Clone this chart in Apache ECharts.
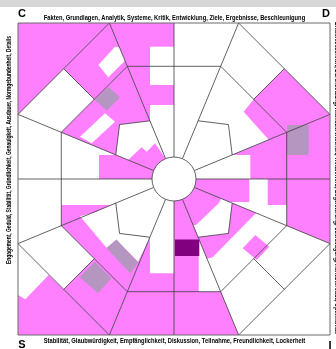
<!DOCTYPE html>
<html>
<head>
<meta charset="utf-8">
<script src="https://cdn.jsdelivr.net/npm/echarts@6/dist/echarts.min.js"></script>
<style>
  html, body { margin: 0; padding: 0; background: #fff; }
  #chart { width: 336px; height: 349px; }
</style>
</head>
<body>
<div id="chart"></div>
<script>
// wheel geometry (chart units, centre = 0,0, y pointing down)
var rayAngles = [22.5, 67.5, 112.5, 157.5, 202.5, 247.5, 292.5, 337.5];
var axisAngles = [0, 90, 180, 270];
var diagonalAngles = [45, 135, 225, 315];
var ringRadii = [22, 63, 77, 122];   // hub, inner, inner corner, middle
var halfSide = 156;

// labels
var topLabel = 'Fakten, Grundlagen, Analytik, Systeme, Kritik, Entwicklung, Ziele, Ergebnisse, Beschleunigung';
var bottomLabel = 'Stabilität, Glaubwürdigkeit, Empfänglichkeit, Diskussion, Teilnahme, Freundlichkeit, Lockerheit';
var leftLabel = 'Engagement, Geduld, Stabilität, Gründlichkeit, Genauigkeit, Ausdauer, Normgebundenheit, Details';
var rightLabel = 'Entschlossenheit, Durchsetzung, Risikobereitschaft, Wettbewerb, Begeisterung, Überzeugung, Kontaktfreude, Optimismus';
var cornerLetters = ['C', 'D', 'S', 'I'];

// filled areas
var pinkAreas = [
  [[-156,-156],[-64.6,-156],[-156,-64.6]],
  [[-64.6,-156],[-110.3,-110.3],[-79.7,-79.7],[-46.7,-112.7]],
  [[-46.7,-112.7],[-112.7,-46.7],[-58.2,-24.1],[-54.4,-54.4],[-24.1,-58.2]],
  [[-46,-19],[-32.3,-31.7],[-27.3,-27.3],[-19,-35.7],[-8.4,-20.3],[-20.3,-8.4]],
  [[-64.6,-156],[0,-156],[0,-22],[-8.4,-20.3]],
  [[-75,-24],[-58.2,-24],[-20.3,-8.4],[-22,0],[-75,0]],
  [[110.3,-110.3],[156,-64.6],[112.7,-46.7],[79.7,-79.7]],
  [[79.7,-79.7],[69.7,-67.3],[94.7,-39.2],[112.7,-46.7]],
  [[58.2,-24.1],[156,-64.6],[156,0],[76.3,0],[76.3,-24],[58.2,-24]],
  [[20,0],[75.3,0],[75.3,23],[55.5,23],[20.3,8.4]],
  [[93.7,0],[112.7,0],[112.7,26],[93.7,26]],
  [[112.7,0],[156,0],[156,64.6],[112.7,46.7]],
  [[0,18],[8.4,20.3],[24.7,59.6],[24.7,112.7],[46.7,112.7],[64.6,156],[0,156]],
  [[8.4,20.3],[20.3,8.4],[47,19.5],[45,24],[22,46],[19,46]],
  [[58.2,24.1],[82,34],[38.7,78.3],[33,79.7],[24.1,58.2],[54.4,54.4]],
  [[68.7,69.3],[81.3,56],[95.3,67.7],[82.7,81]],
  [[-112.7,26],[-62.7,26],[-112.7,46.7]],
  [[-112.7,46.7],[-58.2,24.1],[-54.4,54.4],[-24.1,58.2],[-46.7,112.7]],
  [[-110.3,110.3],[-79.7,79.7],[-46.7,112.7],[-64.6,156]],
  [[-156,64.6],[-64.6,156],[-156,156]],
  [[-24.1,58.2],[-24,94.3],[0,94.3],[0,156],[-64.6,156]]
];
var blankAreas = [
  [[-75.7,-114],[-59,-132.3],[-54.7,-131.7],[-49,-118.3],[-65.7,-101.7]],
  [[-94,-42.3],[-69,-65.7],[-59,-57.3],[-82.3,-35.7]],
  [[-24,-132.3],[0,-132.3],[0,-94],[-24,-94]],
  [[-24,-74],[0,-74],[0,-22],[-8.4,-20.3],[-24.1,-58.2]],
  [[-94,37.3],[-79,33.3],[-58.3,24],[-54.3,54.3],[-24,58.3],[-36,82.7],[-57.7,61],[-67.3,69]],
  [[-156,64.6],[-112.7,46.7],[-80,79.7],[-110.3,110.3],[-125.3,96],[-148.7,120.3],[-156,116]]
];
var greyAreas = [
  [[-79,-79],[-65.7,-92.3],[-54,-81.7],[-67.3,-68.3]],
  [[113,-54],[134.7,-54],[134.7,-24],[113,-24]],
  [[-67.5,69],[-57.5,60.5],[-35.7,83.5],[-44,94.3]],
  [[-94.3,98.3],[-79.3,82.7],[-62.7,99.3],[-76,114.3]]
];
var darkAreas = [
  [[1,60.5],[25.3,60.5],[25.3,77],[1,77]]
];

function polar(r, deg) {
  var a = deg * Math.PI / 180;
  return [r * Math.cos(a), -r * Math.sin(a)];
}
function midpoint(p, q) { return [(p[0] + q[0]) / 2, (p[1] + q[1]) / 2]; }

var hubR = ringRadii[0], innerR = ringRadii[1], cornerR = ringRadii[2], middleR = ringRadii[3];
var outerR = halfSide / Math.cos(22.5 * Math.PI / 180);

var segments = [];
rayAngles.forEach(function (a) { segments.push([polar(hubR, a), polar(outerR, a)]); });
axisAngles.forEach(function (a) { segments.push([polar(hubR, a), polar(halfSide, a)]); });
var octagon = rayAngles.map(function (a) { return polar(middleR, a); });
octagon.push(octagon[0]);
segments.push(octagon);
diagonalAngles.forEach(function (d) {
  var o1 = polar(outerR, d - 22.5), o2 = polar(outerR, d + 22.5);
  var m1 = polar(middleR, d - 22.5), m2 = polar(middleR, d + 22.5);
  segments.push([o1, o2]);
  segments.push([midpoint(o1, o2), midpoint(m1, m2)]);
  segments.push([polar(innerR, d - 22.5), polar(cornerR, d), polar(innerR, d + 22.5)]);
});
var frame = [[-halfSide,-halfSide],[halfSide,-halfSide],[halfSide,halfSide],[-halfSide,halfSide],[-halfSide,-halfSide]];

function areaSeries(list, color, z) {
  return {
    type: 'custom',
    silent: true,
    z: z,
    data: list.map(function () { return [0, 0]; }),
    renderItem: function (params, api) {
      var pts = list[params.dataIndex].map(function (p) { return api.coord(p); });
      return { type: 'polygon', shape: { points: pts }, style: { fill: color } };
    }
  };
}

var chart = echarts.init(document.getElementById('chart'));
var labelFont = 'bold 6.5px "Liberation Sans", Arial, sans-serif';
var letterFont = 'bold 11px "Liberation Sans", Arial, sans-serif';

var option = {
  animation: false,
  grid: { left: 18, top: 23, width: 312, height: 312 },
  xAxis: { type: 'value', min: -halfSide, max: halfSide, show: false },
  yAxis: { type: 'value', min: -halfSide, max: halfSide, inverse: true, show: false },
  series: [
    areaSeries(pinkAreas, '#ff80ff', 2),
    areaSeries(blankAreas, '#ffffff', 3),
    areaSeries(greyAreas, '#b596c0', 4),
    areaSeries(darkAreas, '#800080', 5),
    {
      type: 'custom',
      silent: true,
      z: 6,
      data: segments.map(function () { return [0, 0]; }),
      renderItem: function (params, api) {
        var pts = segments[params.dataIndex].map(function (p) { return api.coord(p); });
        return { type: 'polyline', shape: { points: pts }, style: { stroke: '#3a3a3a', lineWidth: 0.8, fill: null } };
      }
    },
    {
      type: 'custom',
      silent: true,
      z: 7,
      data: [[0, 0]],
      renderItem: function (params, api) {
        var c = api.coord([0, 0]);
        return { type: 'circle', shape: { cx: c[0], cy: c[1], r: api.size([hubR, 0])[0] },
                 style: { fill: '#fff', stroke: '#3a3a3a', lineWidth: 0.8 } };
      }
    },
    {
      type: 'custom',
      silent: true,
      z: 8,
      data: [[0, 0]],
      renderItem: function (params, api) {
        var pts = frame.map(function (p) { return api.coord(p); });
        return { type: 'polyline', shape: { points: pts }, style: { stroke: '#6a6a6a', lineWidth: 1, fill: null } };
      }
    }
  ],
  graphic: [
    { type: 'rect', shape: { x: 0, y: 0, width: 336, height: 7 }, style: { fill: '#d7d7d7' } },
    { type: 'text', x: 174.5, y: 18, scaleX: 0.89, style: { text: topLabel, font: labelFont, fill: '#000', align: 'center', verticalAlign: 'middle' } },
    { type: 'text', x: 174.5, y: 341, scaleX: 0.89, style: { text: bottomLabel, font: labelFont, fill: '#000', align: 'center', verticalAlign: 'middle' } },
    { type: 'text', x: 9.5, y: 150, rotation: Math.PI / 2, scaleX: 0.75, style: { text: leftLabel, font: labelFont, fill: '#000', align: 'center', verticalAlign: 'middle' } },
    { type: 'text', x: 337, y: 178, rotation: -Math.PI / 2, scaleX: 0.82, style: { text: rightLabel, font: labelFont, fill: '#000', align: 'center', verticalAlign: 'middle' } },
    { type: 'text', x: 22, y: 14, style: { text: cornerLetters[0], font: letterFont, fill: '#000', align: 'center', verticalAlign: 'middle' } },
    { type: 'text', x: 326, y: 14, style: { text: cornerLetters[1], font: letterFont, fill: '#000', align: 'center', verticalAlign: 'middle' } },
    { type: 'text', x: 22, y: 345, style: { text: cornerLetters[2], font: letterFont, fill: '#000', align: 'center', verticalAlign: 'middle' } },
    { type: 'text', x: 330, y: 346, style: { text: cornerLetters[3], font: letterFont, fill: '#000', align: 'center', verticalAlign: 'middle' } }
  ]
};
chart.setOption(option);
</script>
</body>
</html>
